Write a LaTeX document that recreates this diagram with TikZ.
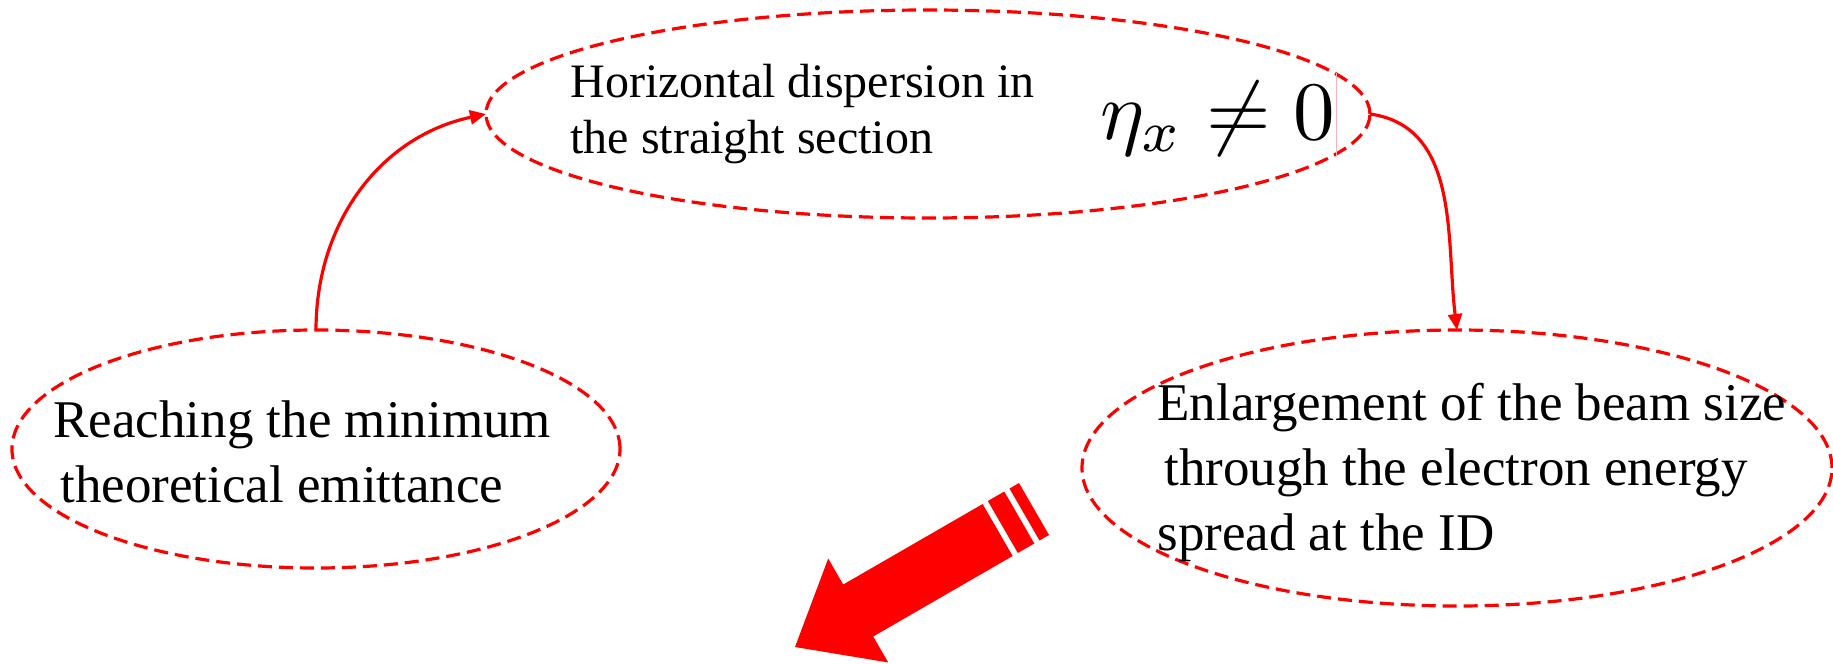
\documentclass[tikz,border=0pt]{standalone}
\usepackage{amsmath}
\usepackage{fontspec}
\setmainfont{Liberation Serif}
\usepackage{tikz}
\usetikzlibrary{shapes.geometric, arrows.meta, positioning}

\begin{document}
\begin{tikzpicture}[
    x=0.5pt, y=-0.5pt,
    oval/.style={ellipse, draw=red, dash pattern=on 7pt off 3.5pt, line width=1.6pt, inner sep=0pt, outer sep=0pt},
    txt/.style={anchor=base west, inner sep=0pt, align=left, font=\fontsize{26.5}{32.5}\selectfont},
    arrow/.style={-{Triangle[length=8pt, width=7pt]}, red, line width=1.6pt},
]
\useasboundingbox (0,0) rectangle (1833,664);

% ellipses
\node[oval, minimum width=442pt, minimum height=104pt] (disp) at (928,114) {};
\node[oval, minimum width=304pt, minimum height=119pt] (emit) at (316,449) {};
\node[oval, minimum width=375pt, minimum height=138pt] (spread) at (1457,468) {};

% texts (anchored on the last line)
\node[txt, font=\fontsize{24}{28}\selectfont] (disptxt) at (570,153) {Horizontal dispersion in\\the straight section};
\node[anchor=base west, inner sep=0pt] (eta) at (1100,139) {\scalebox{4.15}{$\eta_x \neq 0$}};
\draw[red!30, line width=0.5pt] (1336,73) -- (1336,157);
\node[txt] (emittxt) at (53,502) {Reaching the minimum\\\hspace*{3.5pt}theoretical emittance};
\node[txt] (spreadtxt) at (1157,550) {Enlargement of the beam size\\\hspace*{3.5pt}through the electron energy\\spread at the ID};

% arrows
\draw[arrow] (emit.north) to[out=90, in=192] (disp.west);
\draw[arrow] (disp.east) to[out=-8, in=97] (spread.north);

% big arrow
\begin{scope}[shift={(795,647)}, rotate=30]
\fill[red] (0,0) -- (73,-60) -- (73,-30) -- (234,-30) -- (234,30) -- (73,30) -- (73,60) -- cycle;
\fill[red] (240,-30) rectangle (259,30);
\fill[red] (265,-30) rectangle (276,30);
\end{scope}
\end{tikzpicture}
\end{document}
